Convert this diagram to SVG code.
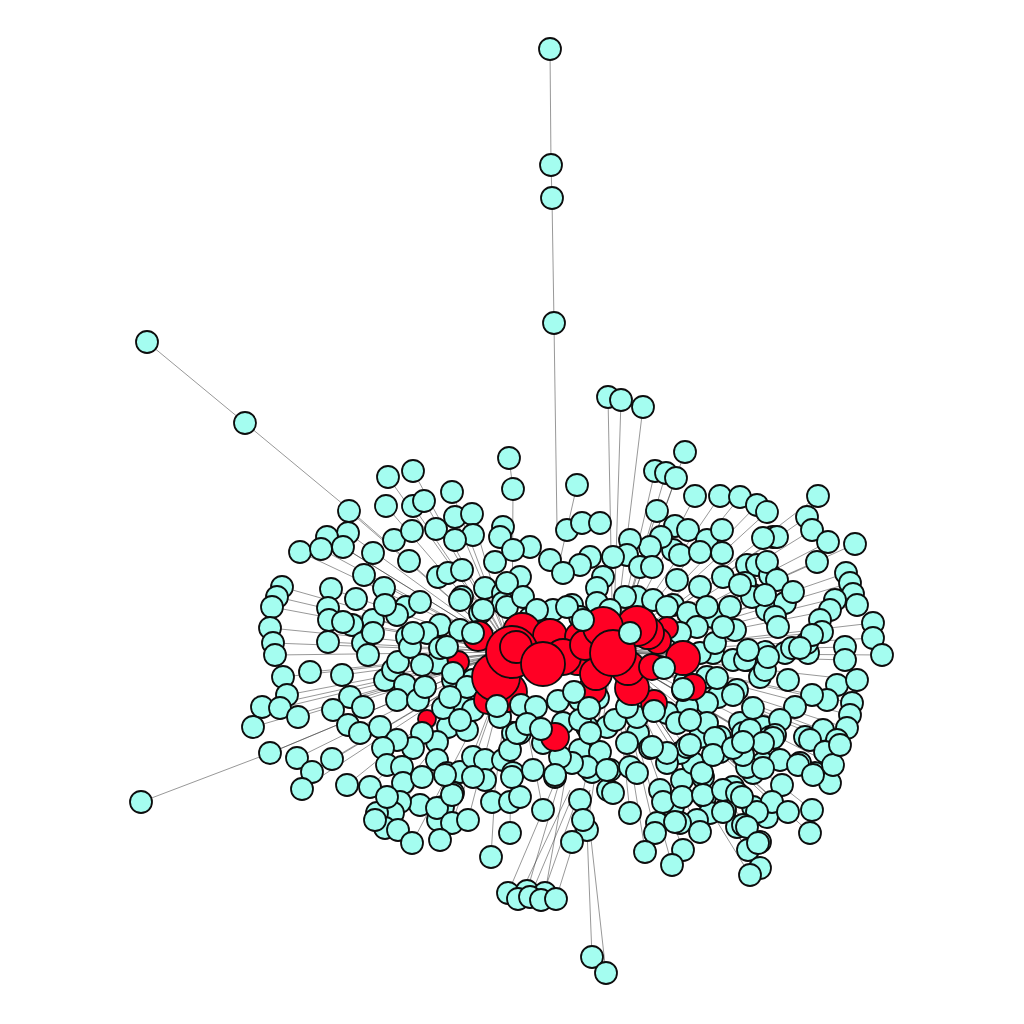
<svg xmlns="http://www.w3.org/2000/svg" width="1024" height="1024" viewBox="0 0 1024 1024">
<style>
.c{fill:#a4fdf0;stroke:#0d0d0d;stroke-width:1.8}
.r{fill:#ff0024;stroke:#0d0d0d;stroke-width:1.8}
#edges path{fill:none;stroke:#333;stroke-width:0.6;stroke-opacity:0.85}
</style>
<rect width="1024" height="1024" fill="#fff"/>
<g id="edges">
<path d="M550 49L551 165M551 165L552 198M552 198L554 323M554 323L557 527M147 342L245 423L350 510L512 652M141 802L270 753L512 652M509 458L513 489L512 652M577 485L560 560M608 397L613 653M621 400L613 653M643 407L613 653M592 957L587 830L613 653M606 973L590 830M508 893L556 780M527 891L560 780M545 893L565 780M518 899L570 790M530 897L575 790M541 900L580 790M556 899L590 790M491 857L495 790L512 652"/>
<path d="M282 587L512 652M277 597L512 652M272 607L512 652M270 628L512 652M273 643L512 652M275 655L512 652M283 677L512 652M287 695L512 652M262 707L512 652M280 708L512 652M298 717L512 652M253 727L512 652M270 753L512 652M297 758L512 652M332 759L512 652M312 772L512 652M302 789L512 652M300 552L512 652M321 549L512 652M327 537L512 652M348 533L512 652M349 511L512 652M343 547L512 652M310 672L512 652M347 785L512 652M370 787L512 652M375 820L512 652M385 828L512 652M393 813L512 652M412 843L512 652M440 840L512 652M452 823L512 652M468 820L512 652M386 506L512 652M413 506L512 652M424 501L512 652M388 477L512 652M413 471L512 652M452 492L512 652M455 517L512 652M472 514L512 652M364 575L512 652M331 589L512 652M328 608L512 652M329 620L512 652M328 642L512 652M342 675L512 652M350 697L512 652M333 710L512 652M510 833L512 652M543 810L512 652"/>
<path d="M655 471L613 653M666 473L613 653M676 478L613 653M685 452L613 653M695 496L613 653M720 496L613 653M740 497L613 653M757 505L613 653M767 512L613 653M818 496L613 653M807 517L613 653M812 530L613 653M828 542L613 653M855 544L613 653M817 562L613 653M846 573L613 653M850 583L613 653M853 594L613 653M857 605L613 653M873 623L613 653M873 638L613 653M882 655L613 653M845 647L613 653M845 660L613 653M857 680L613 653M852 703L613 653M850 715L613 653M847 728L613 653M837 740L613 653M840 745L613 653M833 765L613 653M830 783L613 653M815 773L613 653M810 833L613 653M812 810L613 653M788 812L613 653M772 802L613 653M760 842L613 653M748 850L613 653M760 868L613 653M750 875L613 653M700 832L613 653M683 850L613 653M672 865L613 653M655 833L613 653M645 850L613 653M657 511L613 653M777 537L613 653M793 592L613 653M808 653L613 653M822 632L613 653M827 700L613 653M823 730L613 653M798 765L613 653M572 842L613 653M630 813L613 653"/>
</g>
<g id="under">
<g id="r428_720"><circle class="r" cx="427" cy="719" r="9"/></g>
<g id="r455_665"><circle class="r" cx="458" cy="662" r="11"/></g>
</g>
<g id="nodes">
<g id="n550_49"><circle class="c" cx="550" cy="49" r="11"/></g>
<g id="n551_165"><circle class="c" cx="551" cy="165" r="11"/></g>
<g id="n552_198"><circle class="c" cx="552" cy="198" r="11"/></g>
<g id="n554_323"><circle class="c" cx="554" cy="323" r="11"/></g>
<g id="n147_342"><circle class="c" cx="147" cy="342" r="11"/></g>
<g id="n245_423"><circle class="c" cx="245" cy="423" r="11"/></g>
<g id="n608_397"><circle class="c" cx="608" cy="397" r="11"/></g>
<g id="n621_400"><circle class="c" cx="621" cy="400" r="11"/></g>
<g id="n643_407"><circle class="c" cx="643" cy="407" r="11"/></g>
<g id="n685_452"><circle class="c" cx="685" cy="452" r="11"/></g>
<g id="n509_458"><circle class="c" cx="509" cy="458" r="11"/></g>
<g id="n513_489"><circle class="c" cx="513" cy="489" r="11"/></g>
<g id="n577_485"><circle class="c" cx="577" cy="485" r="11"/></g>
<g id="n655_471"><circle class="c" cx="655" cy="471" r="11"/></g>
<g id="n666_473"><circle class="c" cx="666" cy="473" r="11"/></g>
<g id="n676_478"><circle class="c" cx="676" cy="478" r="11"/></g>
<g id="n388_477"><circle class="c" cx="388" cy="477" r="11"/></g>
<g id="n413_471"><circle class="c" cx="413" cy="471" r="11"/></g>
<g id="n452_492"><circle class="c" cx="452" cy="492" r="11"/></g>
<g id="n141_802"><circle class="c" cx="141" cy="802" r="11"/></g>
<g id="n592_957"><circle class="c" cx="592" cy="957" r="11"/></g>
<g id="n606_973"><circle class="c" cx="606" cy="973" r="11"/></g>
<g id="n491_857"><circle class="c" cx="491" cy="857" r="11"/></g>
<g id="n508_893"><circle class="c" cx="508" cy="893" r="11"/></g>
<g id="n527_891"><circle class="c" cx="527" cy="891" r="11"/></g>
<g id="n545_893"><circle class="c" cx="545" cy="893" r="11"/></g>
<g id="n518_899"><circle class="c" cx="518" cy="899" r="11"/></g>
<g id="n530_897"><circle class="c" cx="530" cy="897" r="11"/></g>
<g id="n541_900"><circle class="c" cx="541" cy="900" r="11"/></g>
<g id="n556_899"><circle class="c" cx="556" cy="899" r="11"/></g>
<g id="n386_506"><circle class="c" cx="386" cy="506" r="11"/></g>
<g id="n413_506"><circle class="c" cx="413" cy="506" r="11"/></g>
<g id="n424_501"><circle class="c" cx="424" cy="501" r="11"/></g>
<g id="n349_511"><circle class="c" cx="349" cy="511" r="11"/></g>
<g id="n348_533"><circle class="c" cx="348" cy="533" r="11"/></g>
<g id="n327_537"><circle class="c" cx="327" cy="537" r="11"/></g>
<g id="n300_552"><circle class="c" cx="300" cy="552" r="11"/></g>
<g id="n321_549"><circle class="c" cx="321" cy="549" r="11"/></g>
<g id="n343_547"><circle class="c" cx="343" cy="547" r="11"/></g>
<g id="n373_553"><circle class="c" cx="373" cy="553" r="11"/></g>
<g id="n394_540"><circle class="c" cx="394" cy="540" r="11"/></g>
<g id="n412_531"><circle class="c" cx="412" cy="531" r="11"/></g>
<g id="n436_529"><circle class="c" cx="436" cy="529" r="11"/></g>
<g id="n455_517"><circle class="c" cx="455" cy="517" r="11"/></g>
<g id="n472_514"><circle class="c" cx="472" cy="514" r="11"/></g>
<g id="n473_535"><circle class="c" cx="473" cy="535" r="11"/></g>
<g id="n455_540"><circle class="c" cx="455" cy="540" r="11"/></g>
<g id="n503_527"><circle class="c" cx="503" cy="527" r="11"/></g>
<g id="n500_537"><circle class="c" cx="500" cy="537" r="11"/></g>
<g id="n495_562"><circle class="c" cx="495" cy="562" r="11"/></g>
<g id="n409_561"><circle class="c" cx="409" cy="561" r="11"/></g>
<g id="n364_575"><circle class="c" cx="364" cy="575" r="11"/></g>
<g id="n384_588"><circle class="c" cx="384" cy="588" r="11"/></g>
<g id="n356_599"><circle class="c" cx="356" cy="599" r="11"/></g>
<g id="n331_589"><circle class="c" cx="331" cy="589" r="11"/></g>
<g id="n328_608"><circle class="c" cx="328" cy="608" r="11"/></g>
<g id="n329_620"><circle class="c" cx="329" cy="620" r="11"/></g>
<g id="n373_620"><circle class="c" cx="373" cy="620" r="11"/></g>
<g id="n406_607"><circle class="c" cx="406" cy="607" r="11"/></g>
<g id="n420_602"><circle class="c" cx="420" cy="602" r="11"/></g>
<g id="n438_577"><circle class="c" cx="438" cy="577" r="11"/></g>
<g id="n448_573"><circle class="c" cx="448" cy="573" r="11"/></g>
<g id="n462_570"><circle class="c" cx="462" cy="570" r="11"/></g>
<g id="n462_597"><circle class="c" cx="462" cy="597" r="11"/></g>
<g id="n485_588"><circle class="c" cx="485" cy="588" r="11"/></g>
<g id="n503_593"><circle class="c" cx="503" cy="593" r="11"/></g>
<g id="n282_587"><circle class="c" cx="282" cy="587" r="11"/></g>
<g id="n277_597"><circle class="c" cx="277" cy="597" r="11"/></g>
<g id="n272_607"><circle class="c" cx="272" cy="607" r="11"/></g>
<g id="n270_628"><circle class="c" cx="270" cy="628" r="11"/></g>
<g id="n480_613"><circle class="c" cx="480" cy="613" r="11"/></g>
<g id="n440_625"><circle class="c" cx="440" cy="625" r="11"/></g>
<g id="n427_633"><circle class="c" cx="427" cy="633" r="11"/></g>
<g id="n407_637"><circle class="c" cx="407" cy="637" r="11"/></g>
<g id="n397_615"><circle class="c" cx="397" cy="615" r="11"/></g>
<g id="n385_605"><circle class="c" cx="385" cy="605" r="11"/></g>
<g id="n352_625"><circle class="c" cx="352" cy="625" r="11"/></g>
<g id="n567_530"><circle class="c" cx="567" cy="530" r="11"/></g>
<g id="n582_523"><circle class="c" cx="582" cy="523" r="11"/></g>
<g id="n600_523"><circle class="c" cx="600" cy="523" r="11"/></g>
<g id="n657_511"><circle class="c" cx="657" cy="511" r="11"/></g>
<g id="n695_496"><circle class="c" cx="695" cy="496" r="11"/></g>
<g id="n720_496"><circle class="c" cx="720" cy="496" r="11"/></g>
<g id="n740_497"><circle class="c" cx="740" cy="497" r="11"/></g>
<g id="n757_505"><circle class="c" cx="757" cy="505" r="11"/></g>
<g id="n767_512"><circle class="c" cx="767" cy="512" r="11"/></g>
<g id="n675_526"><circle class="c" cx="675" cy="526" r="11"/></g>
<g id="n688_530"><circle class="c" cx="688" cy="530" r="11"/></g>
<g id="n707_540"><circle class="c" cx="707" cy="540" r="11"/></g>
<g id="n722_530"><circle class="c" cx="722" cy="530" r="11"/></g>
<g id="n722_553"><circle class="c" cx="722" cy="553" r="11"/></g>
<g id="n673_550"><circle class="c" cx="673" cy="550" r="11"/></g>
<g id="n661_537"><circle class="c" cx="661" cy="537" r="11"/></g>
<g id="n650_547"><circle class="c" cx="650" cy="547" r="11"/></g>
<g id="n630_540"><circle class="c" cx="630" cy="540" r="11"/></g>
<g id="n627_555"><circle class="c" cx="627" cy="555" r="11"/></g>
<g id="n613_557"><circle class="c" cx="613" cy="557" r="11"/></g>
<g id="n590_557"><circle class="c" cx="590" cy="557" r="11"/></g>
<g id="n580_565"><circle class="c" cx="580" cy="565" r="11"/></g>
<g id="n550_560"><circle class="c" cx="550" cy="560" r="11"/></g>
<g id="n563_573"><circle class="c" cx="563" cy="573" r="11"/></g>
<g id="n530_547"><circle class="c" cx="530" cy="547" r="11"/></g>
<g id="n513_550"><circle class="c" cx="513" cy="550" r="11"/></g>
<g id="n603_577"><circle class="c" cx="603" cy="577" r="11"/></g>
<g id="n640_567"><circle class="c" cx="640" cy="567" r="11"/></g>
<g id="n652_567"><circle class="c" cx="652" cy="567" r="11"/></g>
<g id="n677_580"><circle class="c" cx="677" cy="580" r="11"/></g>
<g id="n700_587"><circle class="c" cx="700" cy="587" r="11"/></g>
<g id="n723_577"><circle class="c" cx="723" cy="577" r="11"/></g>
<g id="n747_565"><circle class="c" cx="747" cy="565" r="11"/></g>
<g id="n757_565"><circle class="c" cx="757" cy="565" r="11"/></g>
<g id="n770_575"><circle class="c" cx="770" cy="575" r="11"/></g>
<g id="n773_537"><circle class="c" cx="773" cy="537" r="11"/></g>
<g id="n673_605"><circle class="c" cx="673" cy="605" r="11"/></g>
<g id="n688_613"><circle class="c" cx="688" cy="613" r="11"/></g>
<g id="n713_617"><circle class="c" cx="713" cy="617" r="11"/></g>
<g id="n730_607"><circle class="c" cx="730" cy="607" r="11"/></g>
<g id="n753_595"><circle class="c" cx="753" cy="595" r="11"/></g>
<g id="n767_610"><circle class="c" cx="767" cy="610" r="11"/></g>
<g id="n637_597"><circle class="c" cx="637" cy="597" r="11"/></g>
<g id="n653_600"><circle class="c" cx="653" cy="600" r="11"/></g>
<g id="n667_607"><circle class="c" cx="667" cy="607" r="11"/></g>
<g id="n625_597"><circle class="c" cx="625" cy="597" r="11"/></g>
<g id="n597_588"><circle class="c" cx="597" cy="588" r="11"/></g>
<g id="n597_603"><circle class="c" cx="597" cy="603" r="11"/></g>
<g id="n572_605"><circle class="c" cx="572" cy="605" r="11"/></g>
<g id="n553_610"><circle class="c" cx="553" cy="610" r="11"/></g>
<g id="n580_617"><circle class="c" cx="580" cy="617" r="11"/></g>
<g id="n610_610"><circle class="c" cx="610" cy="610" r="11"/></g>
<g id="n530_618"><circle class="c" cx="530" cy="618" r="11"/></g>
<g id="n517_595"><circle class="c" cx="517" cy="595" r="11"/></g>
<g id="n503_603"><circle class="c" cx="503" cy="603" r="11"/></g>
<g id="n520_577"><circle class="c" cx="520" cy="577" r="11"/></g>
<g id="n507_583"><circle class="c" cx="507" cy="583" r="11"/></g>
<g id="n818_496"><circle class="c" cx="818" cy="496" r="11"/></g>
<g id="n807_517"><circle class="c" cx="807" cy="517" r="11"/></g>
<g id="n812_530"><circle class="c" cx="812" cy="530" r="11"/></g>
<g id="n828_542"><circle class="c" cx="828" cy="542" r="11"/></g>
<g id="n855_544"><circle class="c" cx="855" cy="544" r="11"/></g>
<g id="n817_562"><circle class="c" cx="817" cy="562" r="11"/></g>
<g id="n846_573"><circle class="c" cx="846" cy="573" r="11"/></g>
<g id="n850_583"><circle class="c" cx="850" cy="583" r="11"/></g>
<g id="n853_594"><circle class="c" cx="853" cy="594" r="11"/></g>
<g id="n857_605"><circle class="c" cx="857" cy="605" r="11"/></g>
<g id="n835_600"><circle class="c" cx="835" cy="600" r="11"/></g>
<g id="n830_610"><circle class="c" cx="830" cy="610" r="11"/></g>
<g id="n820_620"><circle class="c" cx="820" cy="620" r="11"/></g>
<g id="n873_623"><circle class="c" cx="873" cy="623" r="11"/></g>
<g id="n873_638"><circle class="c" cx="873" cy="638" r="11"/></g>
<g id="n777_537"><circle class="c" cx="777" cy="537" r="11"/></g>
<g id="n763_538"><circle class="c" cx="763" cy="538" r="11"/></g>
<g id="n767_562"><circle class="c" cx="767" cy="562" r="11"/></g>
<g id="n745_583"><circle class="c" cx="745" cy="583" r="11"/></g>
<g id="n752_597"><circle class="c" cx="752" cy="597" r="11"/></g>
<g id="n785_603"><circle class="c" cx="785" cy="603" r="11"/></g>
<g id="n775_617"><circle class="c" cx="775" cy="617" r="11"/></g>
<g id="n778_627"><circle class="c" cx="778" cy="627" r="11"/></g>
<g id="n740_585"><circle class="c" cx="740" cy="585" r="11"/></g>
<g id="n707_607"><circle class="c" cx="707" cy="607" r="11"/></g>
<g id="n680_555"><circle class="c" cx="680" cy="555" r="11"/></g>
<g id="n700_552"><circle class="c" cx="700" cy="552" r="11"/></g>
<g id="n777_580"><circle class="c" cx="777" cy="580" r="11"/></g>
<g id="n793_592"><circle class="c" cx="793" cy="592" r="11"/></g>
<g id="n273_643"><circle class="c" cx="273" cy="643" r="11"/></g>
<g id="n275_655"><circle class="c" cx="275" cy="655" r="11"/></g>
<g id="n283_677"><circle class="c" cx="283" cy="677" r="11"/></g>
<g id="n287_695"><circle class="c" cx="287" cy="695" r="11"/></g>
<g id="n262_707"><circle class="c" cx="262" cy="707" r="11"/></g>
<g id="n280_708"><circle class="c" cx="280" cy="708" r="11"/></g>
<g id="n298_717"><circle class="c" cx="298" cy="717" r="11"/></g>
<g id="n253_727"><circle class="c" cx="253" cy="727" r="11"/></g>
<g id="n270_753"><circle class="c" cx="270" cy="753" r="11"/></g>
<g id="n297_758"><circle class="c" cx="297" cy="758" r="11"/></g>
<g id="n332_759"><circle class="c" cx="332" cy="759" r="11"/></g>
<g id="n312_772"><circle class="c" cx="312" cy="772" r="11"/></g>
<g id="n302_789"><circle class="c" cx="302" cy="789" r="11"/></g>
<g id="n347_785"><circle class="c" cx="347" cy="785" r="11"/></g>
<g id="n370_787"><circle class="c" cx="370" cy="787" r="11"/></g>
<g id="n310_672"><circle class="c" cx="310" cy="672" r="11"/></g>
<g id="n343_622"><circle class="c" cx="343" cy="622" r="11"/></g>
<g id="n328_642"><circle class="c" cx="328" cy="642" r="11"/></g>
<g id="n363_643"><circle class="c" cx="363" cy="643" r="11"/></g>
<g id="n342_675"><circle class="c" cx="342" cy="675" r="11"/></g>
<g id="n350_697"><circle class="c" cx="350" cy="697" r="11"/></g>
<g id="n333_710"><circle class="c" cx="333" cy="710" r="11"/></g>
<g id="n363_707"><circle class="c" cx="363" cy="707" r="11"/></g>
<g id="n348_725"><circle class="c" cx="348" cy="725" r="11"/></g>
<g id="n360_733"><circle class="c" cx="360" cy="733" r="11"/></g>
<g id="n380_727"><circle class="c" cx="380" cy="727" r="11"/></g>
<g id="n368_655"><circle class="c" cx="368" cy="655" r="11"/></g>
<g id="n373_633"><circle class="c" cx="373" cy="633" r="11"/></g>
<g id="n385_680"><circle class="c" cx="385" cy="680" r="11"/></g>
<g id="n393_670"><circle class="c" cx="393" cy="670" r="11"/></g>
<g id="n398_662"><circle class="c" cx="398" cy="662" r="11"/></g>
<g id="n405_685"><circle class="c" cx="405" cy="685" r="11"/></g>
<g id="n397_700"><circle class="c" cx="397" cy="700" r="11"/></g>
<g id="n418_700"><circle class="c" cx="418" cy="700" r="11"/></g>
<g id="n425_687"><circle class="c" cx="425" cy="687" r="11"/></g>
<g id="n437_663"><circle class="c" cx="437" cy="663" r="11"/></g>
<g id="n440_648"><circle class="c" cx="440" cy="648" r="11"/></g>
<g id="n422_665"><circle class="c" cx="422" cy="665" r="11"/></g>
<g id="n410_647"><circle class="c" cx="410" cy="647" r="11"/></g>
<g id="n413_633"><circle class="c" cx="413" cy="633" r="11"/></g>
<g id="n448_727"><circle class="c" cx="448" cy="727" r="11"/></g>
<g id="n437_742"><circle class="c" cx="437" cy="742" r="11"/></g>
<g id="n422_733"><circle class="c" cx="422" cy="733" r="11"/></g>
<g id="n413_748"><circle class="c" cx="413" cy="748" r="11"/></g>
<g id="n397_740"><circle class="c" cx="397" cy="740" r="11"/></g>
<g id="n383_748"><circle class="c" cx="383" cy="748" r="11"/></g>
<g id="n387_765"><circle class="c" cx="387" cy="765" r="11"/></g>
<g id="n402_767"><circle class="c" cx="402" cy="767" r="11"/></g>
<g id="n403_783"><circle class="c" cx="403" cy="783" r="11"/></g>
<g id="n422_777"><circle class="c" cx="422" cy="777" r="11"/></g>
<g id="n437_760"><circle class="c" cx="437" cy="760" r="11"/></g>
<g id="n447_773"><circle class="c" cx="447" cy="773" r="11"/></g>
<g id="n460_772"><circle class="c" cx="460" cy="772" r="11"/></g>
<g id="n453_793"><circle class="c" cx="453" cy="793" r="11"/></g>
<g id="n443_807"><circle class="c" cx="443" cy="807" r="11"/></g>
<g id="n438_820"><circle class="c" cx="438" cy="820" r="11"/></g>
<g id="n420_805"><circle class="c" cx="420" cy="805" r="11"/></g>
<g id="n400_802"><circle class="c" cx="400" cy="802" r="11"/></g>
<g id="n393_813"><circle class="c" cx="393" cy="813" r="11"/></g>
<g id="n377_813"><circle class="c" cx="377" cy="813" r="11"/></g>
<g id="n385_828"><circle class="c" cx="385" cy="828" r="11"/></g>
<g id="n398_830"><circle class="c" cx="398" cy="830" r="11"/></g>
<g id="n467_730"><circle class="c" cx="467" cy="730" r="11"/></g>
<g id="n473_757"><circle class="c" cx="473" cy="757" r="11"/></g>
<g id="n485_760"><circle class="c" cx="485" cy="760" r="11"/></g>
<g id="n485_780"><circle class="c" cx="485" cy="780" r="11"/></g>
<g id="n473_777"><circle class="c" cx="473" cy="777" r="11"/></g>
<g id="n492_802"><circle class="c" cx="492" cy="802" r="11"/></g>
<g id="n503_760"><circle class="c" cx="503" cy="760" r="11"/></g>
<g id="n473_707"><circle class="c" cx="473" cy="707" r="11"/></g>
<g id="n460_700"><circle class="c" cx="460" cy="700" r="11"/></g>
<g id="n443_708"><circle class="c" cx="443" cy="708" r="11"/></g>
<g id="n453_680"><circle class="c" cx="453" cy="680" r="11"/></g>
<g id="n473_680"><circle class="c" cx="473" cy="680" r="11"/></g>
<g id="n513_733"><circle class="c" cx="513" cy="733" r="11"/></g>
<g id="n510_750"><circle class="c" cx="510" cy="750" r="11"/></g>
<g id="n513_773"><circle class="c" cx="513" cy="773" r="11"/></g>
<g id="n387_797"><circle class="c" cx="387" cy="797" r="11"/></g>
<g id="n375_820"><circle class="c" cx="375" cy="820" r="11"/></g>
<g id="n412_843"><circle class="c" cx="412" cy="843" r="11"/></g>
<g id="n437_808"><circle class="c" cx="437" cy="808" r="11"/></g>
<g id="n452_795"><circle class="c" cx="452" cy="795" r="11"/></g>
<g id="n452_823"><circle class="c" cx="452" cy="823" r="11"/></g>
<g id="n468_820"><circle class="c" cx="468" cy="820" r="11"/></g>
<g id="n440_840"><circle class="c" cx="440" cy="840" r="11"/></g>
<g id="n445_775"><circle class="c" cx="445" cy="775" r="11"/></g>
<g id="n510_802"><circle class="c" cx="510" cy="802" r="11"/></g>
<g id="n520_797"><circle class="c" cx="520" cy="797" r="11"/></g>
<g id="n512_777"><circle class="c" cx="512" cy="777" r="11"/></g>
<g id="n543_810"><circle class="c" cx="543" cy="810" r="11"/></g>
<g id="n555_777"><circle class="c" cx="555" cy="777" r="11"/></g>
<g id="n580_800"><circle class="c" cx="580" cy="800" r="11"/></g>
<g id="n587_830"><circle class="c" cx="587" cy="830" r="11"/></g>
<g id="n572_842"><circle class="c" cx="572" cy="842" r="11"/></g>
<g id="n510_833"><circle class="c" cx="510" cy="833" r="11"/></g>
<g id="n608_790"><circle class="c" cx="608" cy="790" r="11"/></g>
<g id="n630_813"><circle class="c" cx="630" cy="813" r="11"/></g>
<g id="n592_772"><circle class="c" cx="592" cy="772" r="11"/></g>
<g id="n610_770"><circle class="c" cx="610" cy="770" r="11"/></g>
<g id="n630_767"><circle class="c" cx="630" cy="767" r="11"/></g>
<g id="n580_700"><circle class="c" cx="580" cy="700" r="11"/></g>
<g id="n598_698"><circle class="c" cx="598" cy="698" r="11"/></g>
<g id="n707_677"><circle class="c" cx="707" cy="677" r="11"/></g>
<g id="n713_653"><circle class="c" cx="713" cy="653" r="11"/></g>
<g id="n733_660"><circle class="c" cx="733" cy="660" r="11"/></g>
<g id="n747_660"><circle class="c" cx="747" cy="660" r="11"/></g>
<g id="n760_677"><circle class="c" cx="760" cy="677" r="11"/></g>
<g id="n737_690"><circle class="c" cx="737" cy="690" r="11"/></g>
<g id="n718_697"><circle class="c" cx="718" cy="697" r="11"/></g>
<g id="n707_703"><circle class="c" cx="707" cy="703" r="11"/></g>
<g id="n687_707"><circle class="c" cx="687" cy="707" r="11"/></g>
<g id="n667_713"><circle class="c" cx="667" cy="713" r="11"/></g>
<g id="n677_723"><circle class="c" cx="677" cy="723" r="11"/></g>
<g id="n705_725"><circle class="c" cx="705" cy="725" r="11"/></g>
<g id="n700_737"><circle class="c" cx="700" cy="737" r="11"/></g>
<g id="n720_737"><circle class="c" cx="720" cy="737" r="11"/></g>
<g id="n740_723"><circle class="c" cx="740" cy="723" r="11"/></g>
<g id="n743_733"><circle class="c" cx="743" cy="733" r="11"/></g>
<g id="n755_737"><circle class="c" cx="755" cy="737" r="11"/></g>
<g id="n763_727"><circle class="c" cx="763" cy="727" r="11"/></g>
<g id="n770_737"><circle class="c" cx="770" cy="737" r="11"/></g>
<g id="n638_733"><circle class="c" cx="638" cy="733" r="11"/></g>
<g id="n650_748"><circle class="c" cx="650" cy="748" r="11"/></g>
<g id="n627_743"><circle class="c" cx="627" cy="743" r="11"/></g>
<g id="n607_727"><circle class="c" cx="607" cy="727" r="11"/></g>
<g id="n615_720"><circle class="c" cx="615" cy="720" r="11"/></g>
<g id="n637_717"><circle class="c" cx="637" cy="717" r="11"/></g>
<g id="n627_707"><circle class="c" cx="627" cy="707" r="11"/></g>
<g id="n587_727"><circle class="c" cx="587" cy="727" r="11"/></g>
<g id="n580_750"><circle class="c" cx="580" cy="750" r="11"/></g>
<g id="n600_752"><circle class="c" cx="600" cy="752" r="11"/></g>
<g id="n587_767"><circle class="c" cx="587" cy="767" r="11"/></g>
<g id="n607_770"><circle class="c" cx="607" cy="770" r="11"/></g>
<g id="n637_773"><circle class="c" cx="637" cy="773" r="11"/></g>
<g id="n572_763"><circle class="c" cx="572" cy="763" r="11"/></g>
<g id="n560_757"><circle class="c" cx="560" cy="757" r="11"/></g>
<g id="n555_775"><circle class="c" cx="555" cy="775" r="11"/></g>
<g id="n533_770"><circle class="c" cx="533" cy="770" r="11"/></g>
<g id="n520_733"><circle class="c" cx="520" cy="733" r="11"/></g>
<g id="n543_743"><circle class="c" cx="543" cy="743" r="11"/></g>
<g id="n583_820"><circle class="c" cx="583" cy="820" r="11"/></g>
<g id="n613_793"><circle class="c" cx="613" cy="793" r="11"/></g>
<g id="n657_823"><circle class="c" cx="657" cy="823" r="11"/></g>
<g id="n660_790"><circle class="c" cx="660" cy="790" r="11"/></g>
<g id="n682_780"><circle class="c" cx="682" cy="780" r="11"/></g>
<g id="n703_777"><circle class="c" cx="703" cy="777" r="11"/></g>
<g id="n705_797"><circle class="c" cx="705" cy="797" r="11"/></g>
<g id="n733_787"><circle class="c" cx="733" cy="787" r="11"/></g>
<g id="n753_773"><circle class="c" cx="753" cy="773" r="11"/></g>
<g id="n763_763"><circle class="c" cx="763" cy="763" r="11"/></g>
<g id="n747_767"><circle class="c" cx="747" cy="767" r="11"/></g>
<g id="n693_763"><circle class="c" cx="693" cy="763" r="11"/></g>
<g id="n680_753"><circle class="c" cx="680" cy="753" r="11"/></g>
<g id="n667_763"><circle class="c" cx="667" cy="763" r="11"/></g>
<g id="n753_807"><circle class="c" cx="753" cy="807" r="11"/></g>
<g id="n767_817"><circle class="c" cx="767" cy="817" r="11"/></g>
<g id="n725_810"><circle class="c" cx="725" cy="810" r="11"/></g>
<g id="n710_813"><circle class="c" cx="710" cy="813" r="11"/></g>
<g id="n673_807"><circle class="c" cx="673" cy="807" r="11"/></g>
<g id="n697_820"><circle class="c" cx="697" cy="820" r="11"/></g>
<g id="n680_823"><circle class="c" cx="680" cy="823" r="11"/></g>
<g id="n737_827"><circle class="c" cx="737" cy="827" r="11"/></g>
<g id="n822_632"><circle class="c" cx="822" cy="632" r="11"/></g>
<g id="n882_655"><circle class="c" cx="882" cy="655" r="11"/></g>
<g id="n845_647"><circle class="c" cx="845" cy="647" r="11"/></g>
<g id="n845_660"><circle class="c" cx="845" cy="660" r="11"/></g>
<g id="n808_653"><circle class="c" cx="808" cy="653" r="11"/></g>
<g id="n785_653"><circle class="c" cx="785" cy="653" r="11"/></g>
<g id="n765_652"><circle class="c" cx="765" cy="652" r="11"/></g>
<g id="n765_595"><circle class="c" cx="765" cy="595" r="11"/></g>
<g id="n807_643"><circle class="c" cx="807" cy="643" r="11"/></g>
<g id="n788_680"><circle class="c" cx="788" cy="680" r="11"/></g>
<g id="n837_685"><circle class="c" cx="837" cy="685" r="11"/></g>
<g id="n857_680"><circle class="c" cx="857" cy="680" r="11"/></g>
<g id="n827_700"><circle class="c" cx="827" cy="700" r="11"/></g>
<g id="n852_703"><circle class="c" cx="852" cy="703" r="11"/></g>
<g id="n812_695"><circle class="c" cx="812" cy="695" r="11"/></g>
<g id="n795_707"><circle class="c" cx="795" cy="707" r="11"/></g>
<g id="n780_720"><circle class="c" cx="780" cy="720" r="11"/></g>
<g id="n850_715"><circle class="c" cx="850" cy="715" r="11"/></g>
<g id="n847_728"><circle class="c" cx="847" cy="728" r="11"/></g>
<g id="n823_730"><circle class="c" cx="823" cy="730" r="11"/></g>
<g id="n805_737"><circle class="c" cx="805" cy="737" r="11"/></g>
<g id="n775_735"><circle class="c" cx="775" cy="735" r="11"/></g>
<g id="n792_648"><circle class="c" cx="792" cy="648" r="11"/></g>
<g id="n745_660"><circle class="c" cx="745" cy="660" r="11"/></g>
<g id="n765_670"><circle class="c" cx="765" cy="670" r="11"/></g>
<g id="n810_740"><circle class="c" cx="810" cy="740" r="11"/></g>
<g id="n837_740"><circle class="c" cx="837" cy="740" r="11"/></g>
<g id="n825_752"><circle class="c" cx="825" cy="752" r="11"/></g>
<g id="n815_773"><circle class="c" cx="815" cy="773" r="11"/></g>
<g id="n830_783"><circle class="c" cx="830" cy="783" r="11"/></g>
<g id="n800_763"><circle class="c" cx="800" cy="763" r="11"/></g>
<g id="n780_760"><circle class="c" cx="780" cy="760" r="11"/></g>
<g id="n763_768"><circle class="c" cx="763" cy="768" r="11"/></g>
<g id="n782_785"><circle class="c" cx="782" cy="785" r="11"/></g>
<g id="n772_802"><circle class="c" cx="772" cy="802" r="11"/></g>
<g id="n788_812"><circle class="c" cx="788" cy="812" r="11"/></g>
<g id="n812_810"><circle class="c" cx="812" cy="810" r="11"/></g>
<g id="n810_833"><circle class="c" cx="810" cy="833" r="11"/></g>
<g id="n757_812"><circle class="c" cx="757" cy="812" r="11"/></g>
<g id="n743_825"><circle class="c" cx="743" cy="825" r="11"/></g>
<g id="n760_842"><circle class="c" cx="760" cy="842" r="11"/></g>
<g id="n748_850"><circle class="c" cx="748" cy="850" r="11"/></g>
<g id="n760_868"><circle class="c" cx="760" cy="868" r="11"/></g>
<g id="n750_875"><circle class="c" cx="750" cy="875" r="11"/></g>
<g id="n723_812"><circle class="c" cx="723" cy="812" r="11"/></g>
<g id="n700_832"><circle class="c" cx="700" cy="832" r="11"/></g>
<g id="n683_850"><circle class="c" cx="683" cy="850" r="11"/></g>
<g id="n672_865"><circle class="c" cx="672" cy="865" r="11"/></g>
<g id="n655_833"><circle class="c" cx="655" cy="833" r="11"/></g>
<g id="n675_822"><circle class="c" cx="675" cy="822" r="11"/></g>
<g id="n645_852"><circle class="c" cx="645" cy="852" r="11"/></g>
<g id="n663_802"><circle class="c" cx="663" cy="802" r="11"/></g>
<g id="n682_797"><circle class="c" cx="682" cy="797" r="11"/></g>
<g id="n703_795"><circle class="c" cx="703" cy="795" r="11"/></g>
<g id="n723_790"><circle class="c" cx="723" cy="790" r="11"/></g>
<g id="n720_752"><circle class="c" cx="720" cy="752" r="11"/></g>
<g id="n702_773"><circle class="c" cx="702" cy="773" r="11"/></g>
<g id="n737_793"><circle class="c" cx="737" cy="793" r="11"/></g>
<g id="n743_755"><circle class="c" cx="743" cy="755" r="11"/></g>
<g id="n750_730"><circle class="c" cx="750" cy="730" r="11"/></g>
<g id="n773_738"><circle class="c" cx="773" cy="738" r="11"/></g>
<g id="n753_708"><circle class="c" cx="753" cy="708" r="11"/></g>
<g id="n733_695"><circle class="c" cx="733" cy="695" r="11"/></g>
<g id="n717_678"><circle class="c" cx="717" cy="678" r="11"/></g>
<g id="n707_723"><circle class="c" cx="707" cy="723" r="11"/></g>
<g id="n690_720"><circle class="c" cx="690" cy="720" r="11"/></g>
<g id="n687_747"><circle class="c" cx="687" cy="747" r="11"/></g>
<g id="n667_753"><circle class="c" cx="667" cy="753" r="11"/></g>
<g id="n652_747"><circle class="c" cx="652" cy="747" r="11"/></g>
<g id="n715_738"><circle class="c" cx="715" cy="738" r="11"/></g>
<g id="n653_707"><circle class="c" cx="653" cy="707" r="11"/></g>
<g id="n685_682"><circle class="c" cx="685" cy="682" r="11"/></g>
<g id="n700_653"><circle class="c" cx="700" cy="653" r="11"/></g>
<g id="n715_643"><circle class="c" cx="715" cy="643" r="11"/></g>
<g id="n735_630"><circle class="c" cx="735" cy="630" r="11"/></g>
<g id="n723_627"><circle class="c" cx="723" cy="627" r="11"/></g>
<g id="n697_627"><circle class="c" cx="697" cy="627" r="11"/></g>
<g id="n680_633"><circle class="c" cx="680" cy="633" r="11"/></g>
<g id="n812_635"><circle class="c" cx="812" cy="635" r="11"/></g>
<g id="n800_648"><circle class="c" cx="800" cy="648" r="11"/></g>
<g id="n768_657"><circle class="c" cx="768" cy="657" r="11"/></g>
<g id="n748_650"><circle class="c" cx="748" cy="650" r="11"/></g>
<g id="n690_745"><circle class="c" cx="690" cy="745" r="11"/></g>
<g id="n713_755"><circle class="c" cx="713" cy="755" r="11"/></g>
<g id="n733_748"><circle class="c" cx="733" cy="748" r="11"/></g>
<g id="n763_743"><circle class="c" cx="763" cy="743" r="11"/></g>
<g id="n743_742"><circle class="c" cx="743" cy="742" r="11"/></g>
<g id="n798_765"><circle class="c" cx="798" cy="765" r="11"/></g>
<g id="n813_775"><circle class="c" cx="813" cy="775" r="11"/></g>
<g id="n833_765"><circle class="c" cx="833" cy="765" r="11"/></g>
<g id="n840_745"><circle class="c" cx="840" cy="745" r="11"/></g>
<g id="n742_797"><circle class="c" cx="742" cy="797" r="11"/></g>
<g id="n747_827"><circle class="c" cx="747" cy="827" r="11"/></g>
<g id="n758_843"><circle class="c" cx="758" cy="843" r="11"/></g>
<g id="n460_600"><circle class="c" cx="460" cy="600" r="11"/></g>
<g id="n483_610"><circle class="c" cx="483" cy="610" r="11"/></g>
<g id="n507_607"><circle class="c" cx="507" cy="607" r="11"/></g>
<g id="n523_597"><circle class="c" cx="523" cy="597" r="11"/></g>
<g id="n537_610"><circle class="c" cx="537" cy="610" r="11"/></g>
<g id="n567_607"><circle class="c" cx="567" cy="607" r="11"/></g>
<g id="n460_630"><circle class="c" cx="460" cy="630" r="11"/></g>
<g id="n447_647"><circle class="c" cx="447" cy="647" r="11"/></g>
<g id="n453_673"><circle class="c" cx="453" cy="673" r="11"/></g>
<g id="n467_687"><circle class="c" cx="467" cy="687" r="11"/></g>
<g id="n450_697"><circle class="c" cx="450" cy="697" r="11"/></g>
<g id="n473_710"><circle class="c" cx="473" cy="710" r="11"/></g>
<g id="n460_720"><circle class="c" cx="460" cy="720" r="11"/></g>
<g id="n500_717"><circle class="c" cx="500" cy="717" r="11"/></g>
<g id="n517_733"><circle class="c" cx="517" cy="733" r="11"/></g>
<g id="n563_723"><circle class="c" cx="563" cy="723" r="11"/></g>
<g id="n580_720"><circle class="c" cx="580" cy="720" r="11"/></g>
<g id="n590_733"><circle class="c" cx="590" cy="733" r="11"/></g>
<g id="n660_667"><circle class="c" cx="660" cy="667" r="11"/></g>
<g id="n683_690"><circle class="c" cx="683" cy="690" r="11"/></g>
</g>
<g id="red">
<g id="r477_635"><circle class="r" cx="478" cy="636" r="15"/></g>
<g id="r520_633"><circle class="r" cx="522" cy="632" r="19"/></g>
<g id="r550_637"><circle class="r" cx="550" cy="636" r="17"/></g>
<g id="r580_637"><circle class="r" cx="580" cy="637" r="15"/></g>
<g id="r490_700"><circle class="r" cx="488" cy="700" r="14"/></g>
<g id="r507_690"><circle class="r" cx="507" cy="692" r="20"/></g>
<g id="r498_677"><circle class="r" cx="496" cy="677" r="24"/></g>
<g id="r577_657"><circle class="r" cx="578" cy="658" r="17"/></g>
<g id="r563_657"><circle class="r" cx="563" cy="657" r="18"/></g>
<g id="r512_652"><circle class="r" cx="512" cy="652" r="26"/></g>
<g id="r516_648"><circle class="r" cx="516" cy="647" r="16"/></g>
<g id="r543_663"><circle class="r" cx="543" cy="664" r="22"/></g>
<g id="r555_737"><circle class="r" cx="555" cy="737" r="14"/></g>
<g id="r590_690"><circle class="r" cx="592" cy="690" r="14"/></g>
<g id="r595_675"><circle class="r" cx="596" cy="674" r="16"/></g>
<g id="r583_645"><circle class="r" cx="585" cy="645" r="15"/></g>
<g id="r667_627"><circle class="r" cx="667" cy="628" r="11"/></g>
<g id="r657_640"><circle class="r" cx="658" cy="641" r="13"/></g>
<g id="r647_633"><circle class="r" cx="648" cy="633" r="16"/></g>
<g id="r637_627"><circle class="r" cx="637" cy="626" r="20"/></g>
<g id="r603_627"><circle class="r" cx="603" cy="627" r="20"/></g>
<g id="r653_703"><circle class="r" cx="654" cy="703" r="13"/></g>
<g id="r632_687"><circle class="r" cx="632" cy="688" r="17"/></g>
<g id="r628_668"><circle class="r" cx="628" cy="668" r="17"/></g>
<g id="r652_667"><circle class="r" cx="652" cy="667" r="13"/></g>
<g id="r692_687"><circle class="r" cx="693" cy="687" r="13"/></g>
<g id="r613_653"><circle class="r" cx="613" cy="653" r="23"/></g>
<g id="r682_658"><circle class="r" cx="683" cy="658" r="17"/></g>
</g>
<g id="top">
<g id="t473_633"><circle class="c" cx="473" cy="633" r="11"/></g>
<g id="t583_623"><circle class="c" cx="583" cy="620" r="11"/></g>
<g id="t630_633"><circle class="c" cx="630" cy="633" r="11"/></g>
<g id="t663_668"><circle class="c" cx="664" cy="668" r="11"/></g>
<g id="t683_688"><circle class="c" cx="683" cy="689" r="11"/></g>
<g id="t654_708"><circle class="c" cx="654" cy="711" r="11"/></g>
<g id="t497_700"><circle class="c" cx="497" cy="706" r="11"/></g>
<g id="t520_700"><circle class="c" cx="521" cy="705" r="11"/></g>
<g id="t533_703"><circle class="c" cx="536" cy="707" r="11"/></g>
<g id="t557_697"><circle class="c" cx="558" cy="701" r="11"/></g>
<g id="t573_687"><circle class="c" cx="574" cy="692" r="11"/></g>
<g id="t587_703"><circle class="c" cx="589" cy="708" r="11"/></g>
<g id="t527_723"><circle class="c" cx="527" cy="724" r="11"/></g>
<g id="t540_728"><circle class="c" cx="541" cy="729" r="11"/></g>
</g>
</svg>
